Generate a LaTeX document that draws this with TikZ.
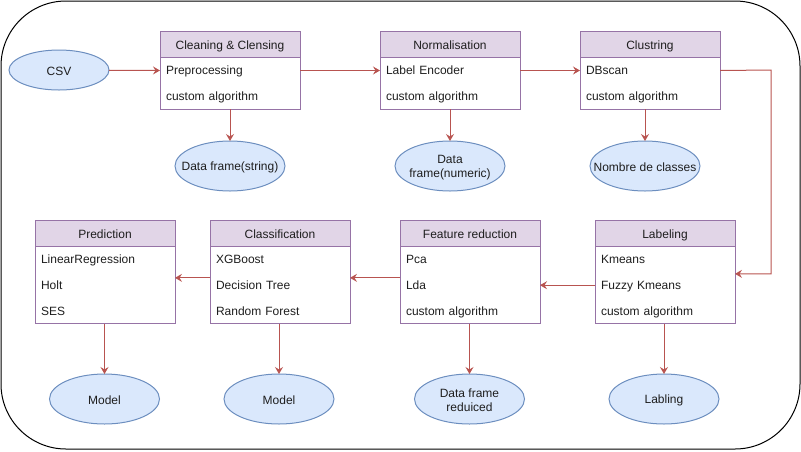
\documentclass[tikz,border=0pt]{standalone}
\usepackage{fontspec}
\setmainfont{Liberation Sans}
\usetikzlibrary{shapes.geometric,arrows.meta,positioning,fit}
\definecolor{hdrfill}{HTML}{E1D5E7}
\definecolor{hdrline}{HTML}{9673A6}
\definecolor{elfill}{HTML}{DAE8FC}
\definecolor{elline}{HTML}{6C8EBF}
\definecolor{arrowred}{HTML}{B85450}
\definecolor{txt}{HTML}{1E1E1E}
\begin{document}
\begin{tikzpicture}[x=1pt,y=-1pt,
  every node/.style={font=\fontsize{12}{14}\selectfont, text=txt, outer sep=0pt},
  hdr/.style={draw=hdrline, fill=hdrfill, line width=1pt, minimum width=140, minimum height=25.7, inner sep=0pt, text height=10.5, text depth=2},
  row/.style={minimum width=140, minimum height=25.7, text width=128, inner xsep=6, inner ysep=0pt, align=left, text height=10.5, text depth=2},
  boxframe/.style={draw=hdrline, line width=1pt, inner sep=0pt},
  data/.style={ellipse, draw=elline, fill=elfill, line width=1pt, minimum width=110, minimum height=50, inner sep=0pt},
  tag/.style={label={[align=center, yshift=-1.5, font=\fontsize{12}{14}\selectfont]center:#1}},
  flow/.style={draw=arrowred, line width=1pt, -{Stealth[length=7pt,width=8pt,inset=2.5pt]}},
  frame/.style={draw=black, line width=1pt, rounded corners=65}]
\useasboundingbox (0,0) rectangle (801,451);
\draw[frame] (1,1) rectangle (800,449);

% top row: preprocessing stages
\node[hdr] (h1) at (230,44.8) {Cleaning \& Clensing};
\node[row, below=0pt of h1] (a1) {Preprocessing};
\node[row, below=0pt of a1] (b1) {custom algorithm};
\node[boxframe, fit=(h1)(b1)] (box1) {};

\node[hdr] (h2) at (450,44.8) {Normalisation};
\node[row, below=0pt of h2] (a2) {Label Encoder};
\node[row, below=0pt of a2] (b2) {custom algorithm};
\node[boxframe, fit=(h2)(b2)] (box2) {};

\node[hdr] (h3) at (650,44.8) {Clustring};
\node[row, below=0pt of h3] (a3) {DBscan};
\node[row, below=0pt of a3] (b3) {custom algorithm};
\node[boxframe, fit=(h3)(b3)] (box3) {};

% bottom row: modelling stages
\node[hdr] (h4) at (665,233.8) {Labeling};
\node[row, below=0pt of h4] (a4) {Kmeans};
\node[row, below=0pt of a4] (b4) {Fuzzy Kmeans};
\node[row, below=0pt of b4] (c4) {custom algorithm};
\node[boxframe, fit=(h4)(c4)] (box4) {};

\node[hdr] (h5) at (470,233.8) {Feature reduction};
\node[row, below=0pt of h5] (a5) {Pca};
\node[row, below=0pt of a5] (b5) {Lda};
\node[row, below=0pt of b5] (c5) {custom algorithm};
\node[boxframe, fit=(h5)(c5)] (box5) {};

\node[hdr] (h6) at (280,233.8) {Classification};
\node[row, below=0pt of h6] (a6) {XGBoost};
\node[row, below=0pt of a6] (b6) {Decision Tree};
\node[row, below=0pt of b6] (c6) {Random Forest};
\node[boxframe, fit=(h6)(c6)] (box6) {};

\node[hdr] (h7) at (105,233.8) {Prediction};
\node[row, below=0pt of h7] (a7) {LinearRegression};
\node[row, below=0pt of a7] (b7) {Holt};
\node[row, below=0pt of b7] (c7) {SES};
\node[boxframe, fit=(h7)(c7)] (box7) {};

% data artefacts
\node[data, minimum width=100, minimum height=40, tag={CSV}] (csv) at (59,70) {};
\node[data, tag={Data frame(string)}] (d1) at (230,166) {};
\node[data, tag={Data\\frame(numeric)}] (d2) at (450,166) {};
\node[data, tag={Nombre de classes}] (d3) at (645,166) {};
\node[data, tag={Labling}] (d4) at (664,399) {};
\node[data, tag={Data frame\\reduiced}] (d5) at (469.5,399) {};
\node[data, tag={Model}] (d6) at (279,399) {};
\node[data, tag={Model}] (d7) at (104.5,399) {};

% main flow
\draw[flow] (csv) -- (a1.west);
\draw[flow] (a1.east) -- (a2.west);
\draw[flow] (a2.east) -- (a3.west);
\coordinate (turn) at (771,70);
\draw[flow] (a3.east) -- (turn) |- ([yshift=-1.5]box4.east);
\draw[flow] (b4.west) -- (b4.west -| box5.east);
\draw[flow] ([yshift=-5.5]box5.west) -- ([yshift=-5.5]box6.east);
\draw[flow] ([yshift=-5.5]box6.west) -- ([yshift=-5.5]box7.east);

% outputs
\draw[flow] (box1.south -| d1) -- (d1.north);
\draw[flow] (box2.south -| d2) -- (d2.north);
\draw[flow] (box3.south -| d3) -- (d3.north);
\draw[flow] (box4.south -| d4) -- (d4.north);
\draw[flow] (box5.south -| d5) -- (d5.north);
\draw[flow] (box6.south -| d6) -- (d6.north);
\draw[flow] (box7.south -| d7) -- (d7.north);
\end{tikzpicture}
\end{document}
